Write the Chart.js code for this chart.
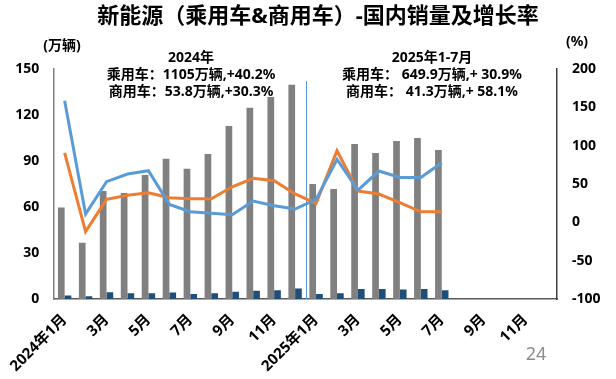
<!DOCTYPE html>
<html>
<head>
<meta charset="utf-8">
<script src="https://cdn.jsdelivr.net/npm/chart.js@4"></script>
<style>
  html, body { margin: 0; padding: 0; background: #fff; }
  #wrap { width: 616px; height: 379px; position: relative; }
</style>
</head>
<body>
<div id="wrap"><canvas id="chart" width="616" height="379"></canvas></div>
<script>
// months, 2024-01 .. 2025-12
var months = ['2024年1月','2月','3月','4月','5月','6月','7月','8月','9月','10月','11月','12月',
              '2025年1月','2月','3月','4月','5月','6月','7月','8月','9月','10月','11月','12月'];

// 销量 (万辆)
var passenger = [59.6, 36.7, 70.4, 69.1, 80.9, 91.5, 85.0, 94.6, 112.8, 124.8, 137.0, 139.8,
                 75.0, 71.7, 101.1, 95.2, 103.1, 105.0, 97.2];
var commercial = [2.3, 1.8, 4.4, 3.8, 3.8, 4.3, 3.2, 3.8, 4.7, 5.3, 5.7, 6.8,
                  3.3, 3.8, 6.6, 6.6, 6.2, 6.6, 5.7];

// 增长率 (%)
var growthBlue = [158.5, 10.8, 53.0, 63.0, 67.3, 23.4, 13.8, 11.7, 10.0, 27.8, 21.7, 17.3,
                  30.0, 82.0, 42.0, 66.9, 58.6, 58.6, 77.7];
var growthOrange = [90.7, -12.2, 30.0, 35.2, 38.6, 32.1, 30.8, 30.8, 46.4, 57.4, 54.3, 37.0,
                    24.7, 93.4, 40.8, 36.9, 25.6, 13.8, 13.8];

var notes2024 = ['2024年', '乘用车：1105万辆,+40.2%', '商用车：53.8万辆,+30.3%'];
var notes2025 = ['2025年1-7月', '乘用车： 649.9万辆,+ 30.9%', '商用车： 41.3万辆,+ 58.1%'];

var FONT = "'Noto Sans', 'Noto Sans CJK SC', sans-serif";

var overlay = {
    id: 'overlay',
    beforeDatasetsDraw: function(chart) {
        var ctx = chart.ctx;
        var x = chart.scales.x;
        var sx = (x.getPixelForValue(11) + x.getPixelForValue(12)) / 2;
        ctx.save();
        ctx.strokeStyle = '#5B9BD5';
        ctx.lineWidth = 1;
        ctx.beginPath();
        ctx.moveTo(Math.round(sx) + 0.5, 81);
        ctx.lineTo(Math.round(sx) + 0.5, chart.chartArea.bottom);
        ctx.stroke();
        ctx.restore();
    },
    afterDatasetsDraw: function(chart) {
        var ctx = chart.ctx;
        ctx.save();
        // white box behind the 2024 note (hides the top of the Nov bar)
        ctx.fillStyle = '#fff';
        ctx.fillRect(100, 50, 182, 47);

        ctx.fillStyle = '#000';
        ctx.textAlign = 'center';
        ctx.textBaseline = 'middle';

        ctx.font = 'bold 22px ' + FONT;
        ctx.fillText('新能源（乘用车&商用车）-国内销量及增长率', 318, 17);

        ctx.font = 'bold 14px ' + FONT;
        ctx.fillText('(万辆)', 62, 46);
        ctx.fillText('(%)', 577, 42);

        var ys = [58, 75, 92];
        for (var i = 0; i < 3; i++) {
            ctx.fillText(notes2024[i], 191, ys[i]);
            ctx.fillText(notes2025[i], 432, ys[i]);
        }

        ctx.fillStyle = '#8c8c8c';
        ctx.font = '18px ' + FONT;
        ctx.fillText('24', 536, 355);
        ctx.restore();
    }
};

var ctx = document.getElementById('chart').getContext('2d');
var chart = new Chart(ctx, {
    type: 'bar',
    data: {
        labels: months,
        datasets: [
            {
                type: 'line',
                label: '增速1',
                data: growthOrange,
                yAxisID: 'y1',
                borderColor: '#ED7D31',
                borderWidth: 3,
                pointRadius: 0,
                tension: 0,
                order: 1
            },
            {
                type: 'line',
                label: '增速2',
                data: growthBlue,
                yAxisID: 'y1',
                borderColor: '#5B9BD5',
                borderWidth: 3,
                pointRadius: 0,
                tension: 0,
                order: 0
            },
            {
                label: '乘用车',
                data: passenger,
                yAxisID: 'y',
                backgroundColor: '#808080',
                categoryPercentage: 0.64,
                barPercentage: 1.0,
                order: 3
            },
            {
                label: '商用车',
                data: commercial,
                yAxisID: 'y',
                backgroundColor: '#1F4E79',
                categoryPercentage: 0.64,
                barPercentage: 1.0,
                order: 3
            }
        ]
    },
    options: {
        responsive: false,
        animation: false,
        layout: { padding: { top: 69, left: 0, right: 0, bottom: 0 } },
        plugins: {
            legend: { display: false },
            tooltip: { enabled: false },
            title: { display: false }
        },
        scales: {
            x: {
                grid: { display: false, drawTicks: false },
                border: { display: true, color: '#595959', width: 1.5 },
                ticks: {
                    autoSkip: false,
                    minRotation: 45,
                    maxRotation: 45,
                    padding: 12,
                    color: '#000',
                    font: { family: FONT, size: 15, weight: 'bold' },
                    callback: function(v, i) { return i % 2 === 0 ? months[i] : ''; }
                },
                afterFit: function(s) { s.height = 80; }
            },
            y: {
                position: 'left',
                min: 0,
                max: 150,
                grid: { display: false, drawTicks: false },
                border: { display: true, color: '#808080', width: 1.5 },
                ticks: {
                    stepSize: 30,
                    padding: 15,
                    color: '#000',
                    font: { family: FONT, size: 14, weight: 'bold' }
                },
                afterFit: function(s) { s.width = 52; }
            },
            y1: {
                position: 'right',
                min: -100,
                max: 200,
                grid: { display: false, drawTicks: false },
                border: { display: true, color: '#404040', width: 1.5 },
                ticks: {
                    stepSize: 50,
                    padding: 15,
                    color: '#000',
                    font: { family: FONT, size: 14, weight: 'bold' }
                },
                afterFit: function(s) { s.width = 59; }
            }
        }
    },
    plugins: [overlay]
});
</script>
</body>
</html>
